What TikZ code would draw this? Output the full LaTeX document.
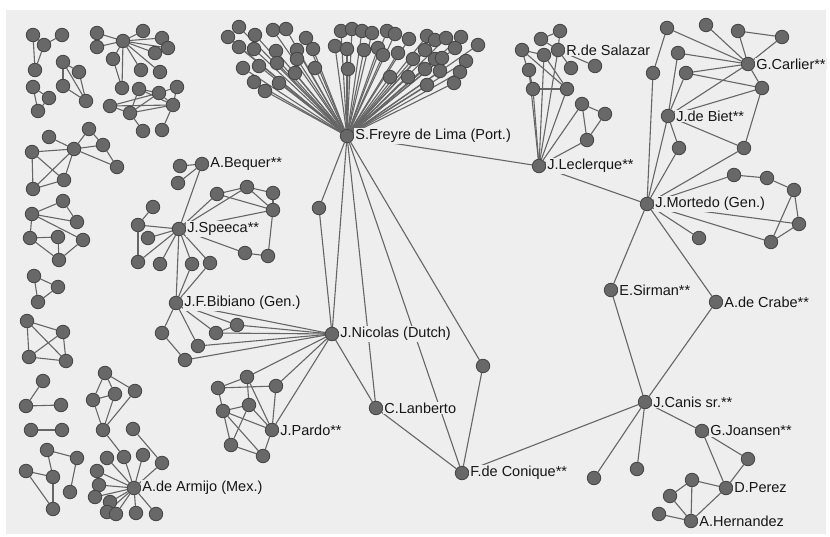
\documentclass[tikz,border=0pt]{standalone}
\usepackage{fontspec}
\setmainfont{Liberation Sans}
\definecolor{bgc}{HTML}{EEEEEE}
\definecolor{dotfill}{HTML}{686868}
\definecolor{dotline}{HTML}{444444}
\definecolor{edgec}{HTML}{666666}
\definecolor{txtc}{HTML}{161616}
\pgfdeclarelayer{bg}
\pgfdeclarelayer{edges}
\pgfsetlayers{bg,edges,main}
\tikzset{
  dot/.style={circle, fill=dotfill, draw=dotline, line width=0.8pt, inner sep=0pt, minimum size=13.5pt},
  edge/.style={draw=edgec, line width=1.1pt},
  lbl/.style={anchor=west, font=\fontsize{14.5}{16}\selectfont, text=txtc, fill=bgc, inner sep=1pt}
}
\begin{document}
\begin{tikzpicture}[x=1pt,y=-1pt]
\useasboundingbox (0,0) rectangle (830,537);
\begin{pgfonlayer}{bg}
  \fill[white] (0,0) rectangle (830,537);
  \fill[bgc] (6,10) rectangle (826,534);
\end{pgfonlayer}

% ---------- hub of S.Freyre de Lima and its fan ----------
\node[dot] (S) at (347,136) {};
\foreach \n/\x/\y in {
  f1/228/37, f2/239/27, f3/255/35, f4/239/47, f5/254/49, f6/273/30, f7/286/29,
  f8/306/38, f9/243/68, f10/259/66, f11/276/51, f12/277/63, f13/297/50, f14/297/59,
  f15/313/49, f16/254/82, f17/265/91, f18/279/83, f19/295/73, f20/315/68,
  f21/335/46, f22/341/31, f23/352/29, f24/347/49, f25/348/69, f26/362/31,
  f27/372/33, f28/364/50, f29/378/48, f30/383/55, f31/387/31, f32/395/34,
  f33/398/53, f34/409/39, f35/413/59, f36/427/36, f37/435/40, f38/446/38,
  f39/461/37, f40/478/45, f41/425/50, f42/435/59, f43/442/58, f44/455/48,
  f45/466/61, f46/425/69, f47/440/71, f48/460/72, f49/390/77, f50/408/77,
  f51/427/85, f52/454/83}
  \node[dot] (\n) at (\x,\y) {};

% ---------- small groups on the left ----------
\foreach \n/\x/\y in {
  a1/33/35, a2/44/45, a3/62/35, a4/35/70,
  b1/33/87, b2/49/98, b3/38/111,
  c1/63/62, c2/79/72, c3/63/86, c4/86/101,
  d0/123/41, d1/97/33, d2/97/47, d3/143/31, d4/162/38, d5/168/48, d6/155/53,
  d7/113/59, d8/141/70, d9/160/72, d10/122/88,
  e1/110/106, e2/130/113, e3/139/89, e4/159/93, e5/177/87, e6/173/105,
  e7/143/131, e8/162/130,
  g0/74/149, g1/32/152, g2/49/137, g3/89/129, g4/103/145, g5/117/167,
  g6/64/180, g7/33/189,
  h1/63/201, h2/32/214, h3/77/222, h4/30/238, h5/58/237, h6/83/240, h7/59/260,
  i1/34/276, i2/58/287, i3/38/302,
  j1/27/321, j2/63/332, j3/29/357, j4/66/361,
  k1/43/381, k2/26/406, k3/61/405, k4/31/430, k5/62/430,
  l1/47/450, l2/77/458, l3/26/471, l4/53/477, l5/70/492, l6/53/509,
  m1/105/373, m2/93/400, m3/115/394, m4/135/391, m5/103/430}
  \node[dot] (\n) at (\x,\y) {};

% ---------- A.de Armijo ----------
\node[dot] (arm) at (134,488) {};
\foreach \n/\x/\y in {
  n1/107/458, n2/124/457, n3/143/455, n4/97/471, n5/99/485, n6/95/497,
  n7/110/502, n8/107/512, n9/116/514, n10/136/513, n11/156/514,
  n12/133/429, n13/162/463}
  \node[dot] (\n) at (\x,\y) {};

% ---------- J.Speeca, J.F.Bibiano, J.Pardo ----------
\node[dot] (beq) at (202,164) {};
\node[dot] (spe) at (179,229) {};
\node[dot] (bib) at (176,303) {};
\node[dot] (par) at (272,430) {};
\foreach \n/\x/\y in {
  q1/180/166, q2/178/183,
  s1/153/207, s2/138/225, s3/148/238, s4/138/262, s5/160/264, s6/192/264,
  s7/210/263, s8/217/194, s9/247/187, s10/273/193, s11/273/210, s12/245/253,
  s13/268/256,
  t1/162/333, t2/198/346, t3/216/333, t4/237/325, t5/185/360,
  p1/218/388, p2/247/377, p3/276/386, p4/223/411, p5/249/405, p6/231/445,
  p7/263/456}
  \node[dot] (\n) at (\x,\y) {};

% ---------- J.Nicolas, C.Lanberto, F.de Conique ----------
\node[dot] (nic) at (332,334) {};
\node[dot] (u1) at (319,208) {};
\node[dot] (lan) at (376,408) {};
\node[dot] (con) at (462,473) {};
\node[dot] (v1) at (483,366) {};

% ---------- J.Canis and the lower right ----------
\node[dot] (can) at (645,402) {};
\node[dot] (joa) at (702,431) {};
\node[dot] (per) at (726,488) {};
\node[dot] (her) at (691,521) {};
\foreach \n/\x/\y in {w1/748/459, w2/692/480, w3/670/496, w4/659/514, w5/637/469, w6/594/478}
  \node[dot] (\n) at (\x,\y) {};

% ---------- J.Mortedo, E.Sirman, A.de Crabe ----------
\node[dot] (mor) at (647,204) {};
\node[dot] (sir) at (611,290) {};
\node[dot] (crb) at (716,302) {};
\foreach \n/\x/\y in {x1/699/238, x2/734/175, x3/767/178, x4/794/190, x5/799/224, x6/771/242}
  \node[dot] (\n) at (\x,\y) {};

% ---------- J.de Biet, G.Carlier ----------
\node[dot] (bie) at (668,116) {};
\node[dot] (car) at (748,64) {};
\foreach \n/\x/\y in {
  y1/667/28, y2/706/25, y3/738/31, y4/782/37, y5/678/53, y6/653/73, y7/686/73,
  y8/762/88, y9/679/148, y10/744/148}
  \node[dot] (\n) at (\x,\y) {};

% ---------- J.Leclerque, R.de Salazar ----------
\node[dot] (lec) at (539,166) {};
\node[dot] (sal) at (558,50) {};
\foreach \n/\x/\y in {
  za/560/31, zb/541/39, zc/522/50, zd/544/55, ze/529/70, zf/571/68, zg/595/66,
  zh/533/89, zi/567/89, zj/582/104, zk/605/114, zl/587/140}
  \node[dot] (\n) at (\x,\y) {};

% ---------- names ----------
\node[lbl] (tS)   at (S.east)   {S.Freyre de Lima (Port.)};
\node[lbl] (tbeq) at (beq.east) {A.Bequer**};
\node[lbl] (tspe) at (spe.east) {J.Speeca**};
\node[lbl] (tbib) at (bib.east) {J.F.Bibiano (Gen.)};
\node[lbl] (tnic) at (nic.east) {J.Nicolas (Dutch)};
\node[lbl] (tpar) at (par.east) {J.Pardo**};
\node[lbl] (tlan) at (lan.east) {C.Lanberto};
\node[lbl] (tcon) at (con.east) {F.de Conique**};
\node[lbl] (tarm) at (arm.east) {A.de Armijo (Mex.)};
\node[lbl] (tlec) at (lec.east) {J.Leclerque**};
\node[lbl] (tsal) at (sal.east) {R.de Salazar};
\node[lbl] (tcar) at (car.east) {G.Carlier**};
\node[lbl] (tbie) at (bie.east) {J.de Biet**};
\node[lbl] (tmor) at (mor.east) {J.Mortedo (Gen.)};
\node[lbl] (tsir) at (sir.east) {E.Sirman**};
\node[lbl] (tcrb) at (crb.east) {A.de Crabe**};
\node[lbl] (tcan) at (can.east) {J.Canis sr.**};
\node[lbl] (tjoa) at (joa.east) {G.Joansen**};
\node[lbl] (tper) at (per.east) {D.Perez};
\node[lbl] (ther) at (her.east) {A.Hernandez};

% ---------- connectors ----------
\begin{pgfonlayer}{edges}
  \foreach \i in {1,...,52} \draw[edge] (S) -- (f\i);
  \foreach \a/\b in {
    a1/a2, a2/a3, a1/a4, a2/a4,
    b1/b2, b2/b3, b1/b3,
    c1/c2, c1/c3, c1/c4, c2/c4, c3/c4,
    d0/d1, d0/d2, d0/d3, d0/d4, d0/d5, d0/d6, d0/d7, d0/d8, d0/d9, d0/d10, d7/d10,
    e1/e2, e1/e4, e1/e6, e2/e3, e2/e4, e2/e6, e3/e4, e3/e6, e4/e5, e4/e6, e5/e6,
    e2/e7, e6/e8,
    g1/g0, g2/g0, g0/g3, g3/g4, g0/g4, g0/g5, g4/g5, g0/g6, g0/g7, g1/g6, g1/g7, g7/g6,
    h2/h1, h2/h3, h2/h6, h2/h4, h4/h5, h5/h7, h4/h7, h7/h6, h1/h3,
    i1/i2, i2/i3, i1/i3,
    j1/j2, j1/j3, j1/j4, j2/j3, j2/j4, j3/j4,
    k1/k2, k2/k3, k4/k5,
    l1/l2, l1/l4, l3/l4, l3/l6, l4/l6, l2/l5,
    m1/m2, m1/m3, m1/m4, m2/m3, m2/m5, m3/m5, m4/m5,
    m5/n2, n12/n13, n13/arm,
    arm/n1, arm/n2, arm/n3, arm/n4, arm/n5, arm/n6, arm/n7, arm/n8, arm/n9, arm/n10, arm/n11,
    beq/q1, beq/q2, beq/spe,
    s1/s2, s2/spe, s2/s4, s3/spe, s4/spe, s5/spe, s6/spe, s7/spe, s6/bib, s7/bib,
    spe/bib, spe/s8, spe/s9, spe/s11, s8/s9, s9/s10, s8/s11, s9/s11, s10/s11,
    spe/s12, s12/s13, s13/s11,
    bib/t1, t1/t5, bib/t2, bib/t3, bib/t4, t3/t4, bib/nic, t2/nic, t3/nic, t4/nic, t5/nic,
    nic/p2, nic/p3, nic/par,
    p1/p2, p1/p3, p1/p4, p2/p5, p2/par, p4/p5, p4/p6, p4/par, p4/p7, p5/par, p5/p6,
    p6/p7, p7/par, p3/par,
    S/u1, u1/nic, S/nic, S/lan, S/con, S/v1, nic/lan, lan/con, v1/con, con/can,
    can/sir, can/crb, can/joa, can/w5, can/w6,
    joa/w1, joa/per, w1/per, per/w2, per/her, w2/w3, w2/her, w3/her, w4/her,
    mor/sir, mor/crb, mor/lec, mor/x1, mor/x2, mor/x5, mor/x6,
    x2/x3, x3/x4, x4/x5, x4/x6, x5/x6,
    mor/y6, mor/bie, mor/y9, mor/y10,
    y1/y6, y1/car, y2/car, y3/car, y3/y4, y4/car, y5/car, y7/car, y7/y8, car/y8,
    car/bie, bie/y8, bie/y7, bie/y5, bie/y9, bie/y10, y8/y10,
    za/zb, za/sal, zb/sal, zc/zd, zc/zi, zc/zh, zd/zi, ze/zh, zh/zi, sal/zf, sal/zg,
    lec/ze, lec/zh, lec/zd, lec/sal, lec/zi, lec/zj, lec/zl, zj/zk, zj/zl, zk/zl,
    S/lec}
    \draw[edge] (\a) -- (\b);
\end{pgfonlayer}
\end{tikzpicture}
\end{document}
